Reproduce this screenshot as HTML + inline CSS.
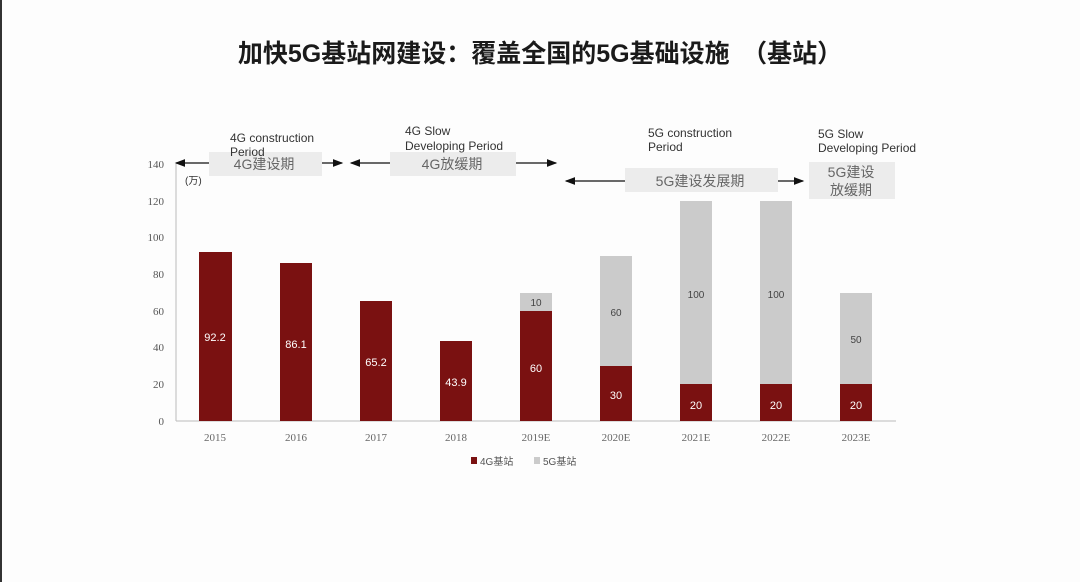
<!DOCTYPE html>
<html><head><meta charset="utf-8"><style>
body{margin:0;width:1080px;height:582px;background:#fff;overflow:hidden;font-family:"Liberation Sans","Noto Sans CJK SC",sans-serif}
</style></head><body>
<svg width="1080" height="582" xmlns="http://www.w3.org/2000/svg" font-family="Liberation Sans, Noto Sans CJK SC, sans-serif">
<defs>
<marker id="a" markerWidth="8" markerHeight="8" refX="7" refY="4" orient="auto"><path d="M0,1 L8,4 L0,7 Z" fill="#111"/></marker>
</defs>
<rect width="1080" height="582" fill="#fdfdfd"/>
<rect x="0" y="0" width="2" height="582" fill="#333"/>
<text x="540" y="62" text-anchor="middle" font-size="25" font-weight="bold" fill="#1a1a1a">加快5G基站网建设：覆盖全国的5G基础设施　（基站）</text>
<g font-family="Liberation Serif, serif" font-size="11" fill="#555" text-anchor="end">
<text x="164" y="168">140</text><text x="164" y="205">120</text><text x="164" y="241">100</text>
<text x="164" y="278">80</text><text x="164" y="315">60</text><text x="164" y="351">40</text>
<text x="164" y="388">20</text><text x="164" y="425">0</text>
</g>
<text x="185" y="184" font-size="10" fill="#333">(万)</text>
<line x1="176" y1="164" x2="176" y2="421" stroke="#bbb"/>
<line x1="176" y1="421" x2="896" y2="421" stroke="#bbb"/>
<g fill="#7a1111">
<rect x="199" y="252" width="33" height="169"/>
<rect x="280" y="263" width="32" height="158"/>
<rect x="360" y="301" width="32" height="120"/>
<rect x="440" y="341" width="32" height="80"/>
<rect x="520" y="311" width="32" height="110"/>
<rect x="600" y="366" width="32" height="55"/>
<rect x="680" y="384" width="32" height="37"/>
<rect x="760" y="384" width="32" height="37"/>
<rect x="840" y="384" width="32" height="37"/>
</g>
<g fill="#cbcbcb">
<rect x="520" y="293" width="32" height="18"/>
<rect x="600" y="256" width="32" height="110"/>
<rect x="680" y="201" width="32" height="183"/>
<rect x="760" y="201" width="32" height="183"/>
<rect x="840" y="293" width="32" height="91"/>
</g>
<g font-size="11" text-anchor="middle" fill="#fff">
<text x="215" y="341">92.2</text><text x="296" y="348">86.1</text><text x="376" y="366">65.2</text>
<text x="456" y="386">43.9</text><text x="536" y="372">60</text><text x="616" y="399">30</text>
<text x="696" y="409">20</text><text x="776" y="409">20</text><text x="856" y="409">20</text>
</g>
<g font-size="10" text-anchor="middle" fill="#444">
<text x="536" y="306">10</text><text x="616" y="316">60</text><text x="696" y="298">100</text>
<text x="776" y="298">100</text><text x="856" y="343">50</text>
</g>
<g font-family="Liberation Serif, serif" font-size="11" fill="#666" text-anchor="middle">
<text x="215" y="441">2015</text><text x="296" y="441">2016</text><text x="376" y="441">2017</text>
<text x="456" y="441">2018</text><text x="536" y="441">2019E</text><text x="616" y="441">2020E</text>
<text x="696" y="441">2021E</text><text x="776" y="441">2022E</text><text x="856" y="441">2023E</text>
</g>
<rect x="471" y="457" width="6" height="7" fill="#7a1111"/>
<text x="480" y="465" font-size="10" fill="#555">4G基站</text>
<rect x="534" y="457" width="6" height="7" fill="#cbcbcb"/>
<text x="543" y="465" font-size="10" fill="#555">5G基站</text>
<g stroke="#111" stroke-width="1.3">
<line x1="209" y1="163" x2="176" y2="163" marker-end="url(#a)"/>
<line x1="322" y1="163" x2="342" y2="163" marker-end="url(#a)"/>
<line x1="390" y1="163" x2="351" y2="163" marker-end="url(#a)"/>
<line x1="516" y1="163" x2="556" y2="163" marker-end="url(#a)"/>
<line x1="625" y1="181" x2="566" y2="181" marker-end="url(#a)"/>
<line x1="778" y1="181" x2="803" y2="181" marker-end="url(#a)"/>
</g>
<rect x="209" y="152" width="113" height="24" fill="#ececec"/>
<rect x="390" y="152" width="126" height="24" fill="#ececec"/>
<rect x="625" y="168" width="153" height="24" fill="#ececec"/>
<rect x="809" y="162" width="86" height="37" fill="#ececec"/>
<g font-size="14" fill="#666" text-anchor="middle">
<text x="264" y="169">4G建设期</text>
<text x="452" y="169">4G放缓期</text>
<text x="700" y="186">5G建设发展期</text>
<text x="851" y="177">5G建设</text>
<text x="851" y="195">放缓期</text>
</g>
<g font-size="12" fill="#333">
<text x="230" y="142">4G construction</text><text x="230" y="156">Period</text>
<text x="405" y="135">4G Slow</text><text x="405" y="150">Developing Period</text>
<text x="648" y="137">5G construction</text><text x="648" y="151">Period</text>
<text x="818" y="138">5G Slow</text><text x="818" y="152">Developing Period</text>
</g>
</svg>
</body></html>
